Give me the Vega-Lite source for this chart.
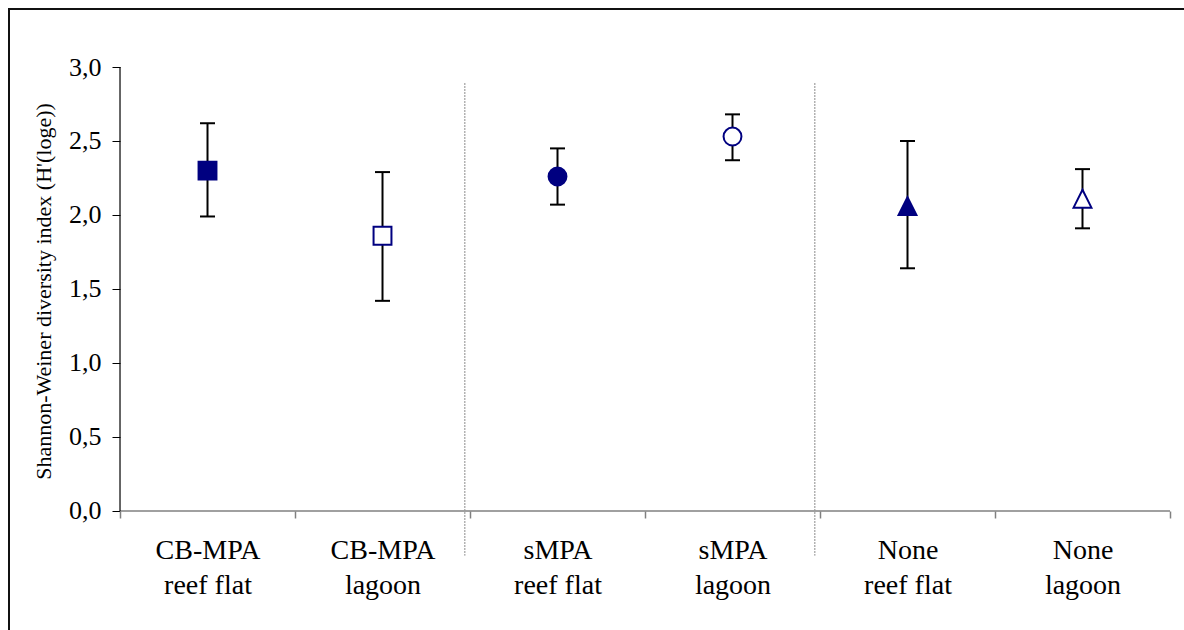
{
  "$schema": "https://vega.github.io/schema/vega-lite/v6.json",
  "width": 1177,
  "height": 623,
  "autosize": {"type": "none"},
  "padding": {"left": 9, "top": 9, "right": -2, "bottom": -2},
  "background": "white",
  "config": {
    "view": {"stroke": "#111111", "strokeWidth": 2},
    "font": "Liberation Serif"
  },
  "data": {
    "values": [
      {"category": "CB-MPA reef flat", "site": "CB-MPA", "habitat": "reef flat", "mean": 2.30, "lo": 1.99, "hi": 2.62},
      {"category": "CB-MPA lagoon", "site": "CB-MPA", "habitat": "lagoon", "mean": 1.86, "lo": 1.42, "hi": 2.29},
      {"category": "sMPA reef flat", "site": "sMPA", "habitat": "reef flat", "mean": 2.26, "lo": 2.07, "hi": 2.45},
      {"category": "sMPA lagoon", "site": "sMPA", "habitat": "lagoon", "mean": 2.53, "lo": 2.37, "hi": 2.68},
      {"category": "None reef flat", "site": "None", "habitat": "reef flat", "mean": 2.06, "lo": 1.64, "hi": 2.50},
      {"category": "None lagoon", "site": "None", "habitat": "lagoon", "mean": 2.11, "lo": 1.91, "hi": 2.31}
    ]
  },
  "encoding": {
    "x": {
      "field": "category",
      "type": "nominal",
      "sort": null,
      "scale": {"type": "band", "paddingInner": 0, "paddingOuter": 0.3629, "align": 0.874},
      "axis": {
        "title": null,
        "orient": "bottom",
        "offset": -121,
        "domain": false,
        "grid": false,
        "tickBand": "extent",
        "tickSize": 7,
        "tickColor": "#808080",
        "tickWidth": 1.5,
        "labelAngle": 0,
        "labelExpr": "[substring(datum.label, 0, indexof(datum.label, ' ')), substring(datum.label, indexof(datum.label, ' ') + 1)]",
        "labelFontSize": 28,
        "labelLineHeight": 35,
        "labelPadding": 18,
        "labelColor": "black"
      }
    }
  },
  "layer": [
    {
      "mark": {"type": "rect", "color": "#808080"},
      "encoding": {
        "y": {"datum": 0.005, "type": "quantitative", "scale": {"domain": [-0.8176, 3.3919], "nice": false, "zero": false},
          "axis": {
            "title": "Shannon-Weiner diversity index (H'(loge))",
            "orient": "left",
            "offset": -111,
            "domain": false,
            "grid": false,
            "values": [0, 0.5, 1, 1.5, 2, 2.5, 3],
            "labelExpr": "replace(format(datum.value, '.1f'), '.', ',')",
            "tickSize": 8,
            "tickColor": "black",
            "tickWidth": 1,
            "labelFontSize": 26,
            "labelPadding": 11,
            "labelColor": "black",
            "titleFontSize": 22,
            "titleFontWeight": "normal",
            "titleColor": "black",
            "titleY": 282,
            "titlePadding": 13
          }
        },
        "y2": {"datum": -0.005}
      }
    },
    {
      "transform": [{"filter": "datum.category == 'CB-MPA reef flat'"}],
      "mark": {"type": "rule", "color": "black", "strokeWidth": 1.2},
      "encoding": {
        "x": {"field": "category", "type": "nominal", "sort": null, "bandPosition": 0},
        "y": {"datum": 0, "type": "quantitative"},
        "y2": {"datum": 3}
      }
    },
    {
      "transform": [{"filter": "datum.habitat == 'lagoon' && datum.site != 'None'"}],
      "mark": {"type": "rule", "color": "#999999", "strokeWidth": 1.5, "strokeDash": [1.5, 1.5]},
      "encoding": {
        "x": {"field": "category", "type": "nominal", "sort": null, "bandPosition": 0.97},
        "y": {"datum": 2.89, "type": "quantitative"},
        "y2": {"datum": -0.3}
      }
    },
    {
      "mark": {"type": "rule", "color": "black", "strokeWidth": 2},
      "encoding": {
        "y": {"field": "lo", "type": "quantitative"},
        "y2": {"field": "hi"}
      }
    },
    {
      "mark": {"type": "tick", "color": "black", "size": 15, "thickness": 2, "opacity": 1},
      "encoding": {"y": {"field": "hi", "type": "quantitative"}}
    },
    {
      "mark": {"type": "tick", "color": "black", "size": 15, "thickness": 2, "opacity": 1},
      "encoding": {"y": {"field": "lo", "type": "quantitative"}}
    },
    {
      "mark": {"type": "point", "filled": true, "stroke": "#000080", "strokeWidth": 2, "size": 320, "opacity": 1},
      "encoding": {
        "y": {"field": "mean", "type": "quantitative"},
        "shape": {"field": "site", "type": "nominal", "scale": {"domain": ["CB-MPA", "sMPA", "None"], "range": ["square", "circle", "M0,-1L1,1L-1,1Z"]}, "legend": null},
        "fill": {"field": "habitat", "type": "nominal", "scale": {"domain": ["reef flat", "lagoon"], "range": ["#000080", "white"]}, "legend": null}
      }
    }
  ]
}
